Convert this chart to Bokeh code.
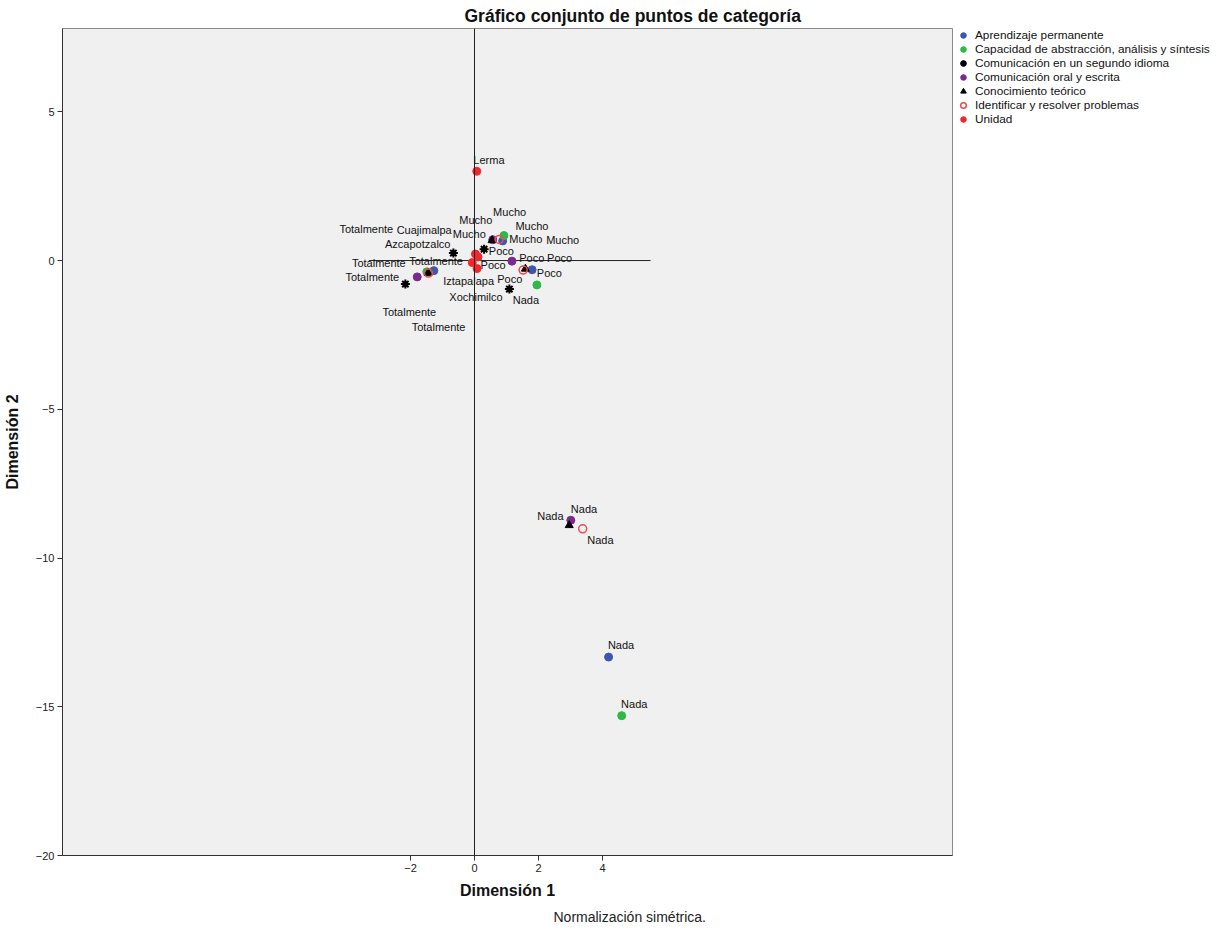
from bokeh.plotting import figure
from bokeh.models import Range1d, FixedTicker, Legend, LegendItem, Span, Title, ColumnDataSource
from bokeh.embed import file_html
from bokeh.resources import INLINE
from bokeh.core.properties import value

# ---------------- data ----------------
categories = ["Nada", "Poco", "Mucho", "Totalmente"]

series_names = [
    "Aprendizaje permanente",
    "Capacidad de abstracción, análisis y síntesis",
    "Comunicación en un segundo idioma",
    "Comunicación oral y escrita",
    "Conocimiento teórico",
    "Identificar y resolver problemas",
]

# Dimension 1 / Dimension 2 coordinates, order: Nada, Poco, Mucho, Totalmente
aprendizaje_x = [4.19, 1.80, 0.88, -1.27]
aprendizaje_y = [-13.33, -0.31, 0.66, -0.34]
capacidad_x = [4.60, 1.95, 0.92, -1.49]
capacidad_y = [-15.30, -0.82, 0.84, -0.38]
segundo_idioma_x = [1.09, 0.30, -0.66, -2.16]
segundo_idioma_y = [-0.96, 0.38, 0.25, -0.79]
oral_escrita_x = [3.01, 1.17, 0.57, -1.79]
oral_escrita_y = [-8.73, -0.02, 0.70, -0.55]
teorico_x = [2.96, 1.59, 0.55, -1.45]
teorico_y = [-8.90, -0.28, 0.68, -0.42]
problemas_x = [3.38, 1.52, 0.77, -1.44]
problemas_y = [-9.02, -0.32, 0.71, -0.42]

unidades = ["Lerma", "Cuajimalpa", "Azcapotzalco", "Iztapalapa", "Xochimilco"]
unidad_x = [0.07, 0.03, 0.11, -0.07, 0.08]
unidad_y = [3.00, 0.22, 0.12, -0.07, -0.27]

# label placement offsets (screen px) as placed by the original program
aprendizaje_off = [(-0.7, -12), (4.7, 3.4), (6.6, -1.6), (-24.7, -9.3)]
capacidad_off = [(-0.6, -12), (10.2, -27.2), (11.5, -9.7), (-87.4, -43.3)]
segundo_idioma_off = [(3.4, 11.3), (4.7, 2), (-0.6, -18.7), (6.3, 42.5)]
oral_escrita_off = [(0, -11.4), (7.3, -3.2), (-33.4, -19.9), (-34.8, 35.5)]
teorico_off = [(-32, -9.3), (-28.2, 9.7), (1, -28.8), (-82.7, 4.2)]
problemas_off = [(4.6, 10.7), (-42.6, -5.5), (47, 0.5), (-76.5, -9.8)]
unidad_off = [(-3.4, -11.4), (-78.8, -24.2), (-93, -12.5), (-29, 18), (-27.7, 28.7)]

x_ticks = [-2, 0, 2, 4]
y_ticks = [-20, -15, -10, -5, 0, 5]
ref_h_x = [-3.3, 5.5]

FONT = "Liberation Sans"

p = figure(
    frame_width=890, frame_height=827,
    x_range=Range1d(-12.875, 14.9375), y_range=Range1d(-20.0, 7.8),
    output_backend="svg", toolbar_location=None,
    min_border_left=57, min_border_right=0, min_border_top=0, min_border_bottom=0,
)
p.background_fill_color = "#F0F0F0"
p.border_fill_color = "white"
p.outline_line_color = "#8a8a8a"
p.grid.visible = False

p.title.text = "Gráfico conjunto de puntos de categoría"
p.title.text_font = FONT
p.title.text_font_size = "17.5px"
p.title.text_font_style = "bold"
p.title.text_color = "#111111"
p.title.align = "left"
p.title.offset = 402
p.title.standoff = 6

for ax in (p.xaxis[0], p.yaxis[0]):
    ax.major_tick_out = 5
    ax.major_tick_in = 0
    ax.minor_tick_line_color = None
    ax.axis_line_color = "#333333"
    ax.major_tick_line_color = "#333333"
    ax.major_label_text_font = FONT
    ax.major_label_text_font_size = "11px"
    ax.major_label_text_color = "#222222"
    ax.major_label_standoff = 3
    ax.axis_label_text_font = FONT
    ax.axis_label_text_font_size = "16px"
    ax.axis_label_text_font_style = "bold"
    ax.axis_label_text_color = "#111111"

p.xaxis.ticker = FixedTicker(ticks=x_ticks)
p.yaxis.ticker = FixedTicker(ticks=y_ticks)
p.xaxis.axis_label = "Dimensión 1"
p.yaxis.axis_label = "Dimensión 2"
p.xaxis.axis_label_standoff = 7
p.yaxis.axis_label_standoff = 12

# reference lines
p.add_layout(Span(location=0, dimension="height", line_color="#222222", line_width=1))
p.line(ref_h_x, [0, 0], line_color="#222222", line_width=1)

styles = [
    dict(marker="circle", size=8, fill_color="#3D57AA", line_color="#3D57AA"),
    dict(marker="circle", size=8, fill_color="#2EB84A", line_color="#2EB84A"),
    None,
    dict(marker="circle", size=8, fill_color="#7A2A8C", line_color="#7A2A8C"),
    dict(marker="triangle", size=8, fill_color="black", line_color="black"),
    dict(marker="circle", size=8, fill_color=None, line_color="#EE4A50", line_width=1.5),
]
xs = [aprendizaje_x, capacidad_x, segundo_idioma_x, oral_escrita_x, teorico_x, problemas_x]
ys = [aprendizaje_y, capacidad_y, segundo_idioma_y, oral_escrita_y, teorico_y, problemas_y]
offs = [aprendizaje_off, capacidad_off, segundo_idioma_off, oral_escrita_off, teorico_off, problemas_off]

legend_items = []
for name, sx, sy, st, off in zip(series_names, xs, ys, styles, offs):
    src = ColumnDataSource(dict(x=sx, y=sy, lab=categories,
                                dx=[o[0] for o in off], dy=[o[1] for o in off]))
    if st is None:
        r1 = p.scatter("x", "y", source=src, marker="asterisk", size=9, line_color="black", line_width=2)
        r2 = p.scatter("x", "y", source=src, marker="circle", size=5, fill_color="black", line_color="black")
        rends = [r1, r2]
    else:
        rends = [p.scatter("x", "y", source=src, **st)]
    legend_items.append(LegendItem(label=name, renderers=rends))
    p.text("x", "y", text="lab", source=src, x_offset="dx", y_offset="dy",
           text_font=value(FONT), text_font_size="11px", text_color="#111111",
           text_align="left", text_baseline="middle")

usrc = ColumnDataSource(dict(x=unidad_x, y=unidad_y, lab=unidades,
                             dx=[o[0] for o in unidad_off], dy=[o[1] for o in unidad_off]))
ru = p.scatter("x", "y", source=usrc, marker="circle", size=8, fill_color="#F0282E", line_color="#F0282E")
legend_items.append(LegendItem(label="Unidad", renderers=[ru]))
p.text("x", "y", text="lab", source=usrc, x_offset="dx", y_offset="dy",
       text_font=value(FONT), text_font_size="11px", text_color="#111111",
       text_align="left", text_baseline="middle")

legend = Legend(items=legend_items, location="top_left")
legend.border_line_color = None
legend.background_fill_alpha = 0
legend.margin = 0
legend.padding = 5
legend.spacing = 0
legend.glyph_width = 22
legend.glyph_height = 14
legend.label_height = 12
legend.label_standoff = 1
legend.label_text_font = FONT
legend.label_text_font_size = "11.8px"
legend.label_text_color = "#111111"
p.add_layout(legend, "right")

# footnote
p.add_layout(Title(text="Normalización simétrica.", align="left", offset=491,
                   text_font=FONT, text_font_size="14px", text_font_style="normal",
                   text_color="#222222", standoff=10), "below")

open("out.html", "w").write(file_html(p, INLINE))
